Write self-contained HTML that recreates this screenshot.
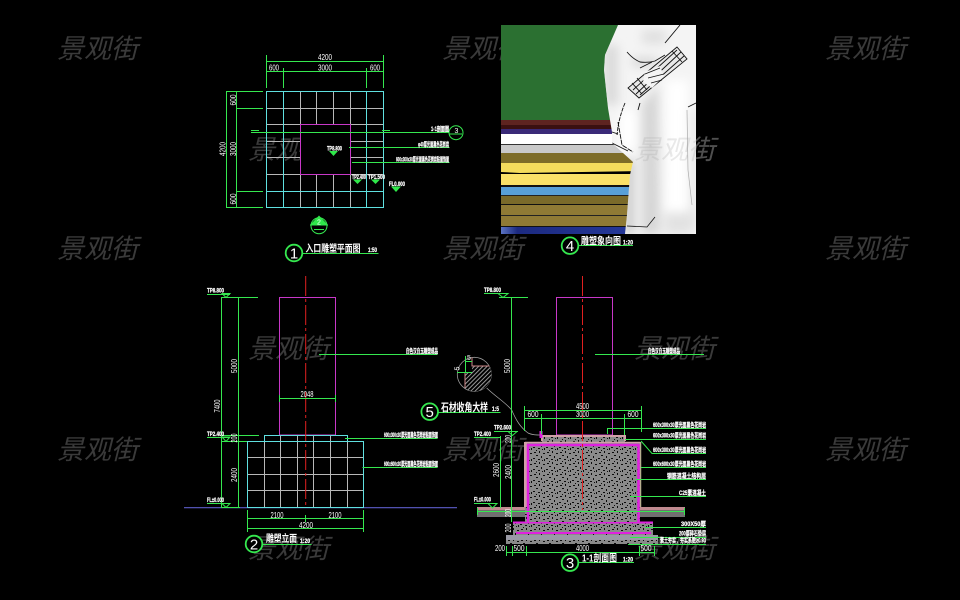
<!DOCTYPE html>
<html><head><meta charset="utf-8"><style>
html,body{margin:0;padding:0;background:#000;width:960px;height:600px;overflow:hidden}
svg{display:block}
text{font-family:"Liberation Sans","Noto Sans CJK SC",sans-serif}
.w{font-size:27px;font-style:italic;font-weight:400;fill:#3a3a3a;font-family:"Liberation Sans","Noto Sans CJK SC",sans-serif}
.t{fill:#fff;font-size:6.5px;font-weight:700;stroke:#fff;stroke-width:.25}
.d{fill:#fff;font-size:8.5px}
.g{stroke:#35e84f;stroke-width:1;fill:none}
.c{stroke:#5fe0e0;stroke-width:1;fill:none}
.l{stroke:#b8b8b8;stroke-width:1;fill:none}
.m{stroke:#c838c8;stroke-width:1;fill:none}
path.g,path.c,path.l,rect.c,rect.m{shape-rendering:crispEdges}
.n{fill:#000;stroke:#35e84f;stroke-width:1.8}
.nt{fill:#fff;font-size:15px;text-anchor:middle}
.ti{fill:#fff;font-size:10px;font-weight:700}
</style></head><body>
<svg width="960" height="600" viewBox="0 0 960 600" xmlns="http://www.w3.org/2000/svg">
<defs>
<pattern id="sp" width="13" height="11" patternUnits="userSpaceOnUse">
<rect width="13" height="11" fill="#8a8a8a"/>
<g fill="#0c0c0c"><rect x="1" y="1" width="2" height="1"/><rect x="6" y="0" width="1" height="2"/><rect x="10" y="2" width="2" height="1"/><rect x="3" y="4" width="2" height="1"/><rect x="8" y="5" width="1" height="2"/><rect x="0" y="7" width="2" height="1"/><rect x="5" y="8" width="2" height="1"/><rect x="11" y="8" width="1" height="2"/><rect x="3" y="10" width="1" height="1"/><rect x="9" y="9" width="1" height="1"/></g>
</pattern>
<pattern id="ha" width="3" height="3" patternUnits="userSpaceOnUse" patternTransform="rotate(-45)">
<rect width="3" height="3" fill="#000"/><rect width="3" height="1" fill="#999"/>
</pattern>
<linearGradient id="nv" x1="0" x2="1" y1="0" y2="0"><stop offset="0" stop-color="#5b74c4"/><stop offset=".12" stop-color="#1c2a80"/><stop offset="1" stop-color="#25389a"/></linearGradient>
<filter id="bl" x="-30%" y="-30%" width="160%" height="160%"><feGaussianBlur stdDeviation="5"/></filter>
<clipPath id="stc"><path d="M618 25 L696 25 L696 234 L625 234 L627 215 L630 175 L633 162 L612 143 L612 132 L608 108 L604 70 L605 55Z"/></clipPath>
</defs>
<rect width="960" height="600" fill="#000"/>

<!-- watermarks (behind) -->
<g class="w">
<text x="57" y="58">景观街</text><text x="442" y="58">景观街</text><text x="825" y="58">景观街</text>
<text x="248" y="159">景观街</text><text x="634" y="159">景观街</text>
<text x="57" y="258">景观街</text><text x="442" y="258">景观街</text><text x="825" y="258">景观街</text>
<text x="248" y="358">景观街</text><text x="634" y="358">景观街</text>
<text x="57" y="459">景观街</text><text x="442" y="459">景观街</text><text x="825" y="459">景观街</text>
<text x="248" y="558">景观街</text><text x="634" y="558">景观街</text>
</g>

<!-- picture 4 -->
<rect x="501" y="25" width="195" height="209" fill="#2b7031"/>
<rect x="501" y="120" width="125" height="6" fill="#5e2420"/>
<rect x="501" y="125" width="125" height="4" fill="#3a1010"/>
<rect x="501" y="129" width="125" height="5" fill="#3a2a78"/>
<rect x="501" y="134" width="125" height="10" fill="#fff"/>
<rect x="501" y="144" width="125" height="1" fill="#333"/>
<rect x="501" y="145" width="125" height="8" fill="#c9c9c9"/>
<rect x="501" y="153" width="135" height="10" fill="#7d6c28"/>
<rect x="501" y="163" width="135" height="10" fill="#f4dc5c"/>
<path d="M501 172 L520 173 L640 171 L640 174 L520 175 L501 175Z" fill="#000"/>
<rect x="501" y="174" width="135" height="11" fill="#fae168"/>
<rect x="501" y="185" width="135" height="2" fill="#111"/>
<rect x="501" y="187" width="135" height="8" fill="#58a0d8"/>
<rect x="501" y="195" width="135" height="1" fill="#222"/>
<rect x="501" y="196" width="135" height="8" fill="#7a6a2a"/>
<rect x="501" y="204" width="135" height="1" fill="#111"/>
<rect x="501" y="205" width="135" height="10" fill="#8f7a35"/>
<rect x="501" y="215" width="135" height="1" fill="#222"/>
<rect x="501" y="216" width="135" height="10" fill="#8f7a35"/>
<rect x="501" y="226" width="135" height="1" fill="#111"/>
<rect x="501" y="227" width="135" height="7" fill="url(#nv)"/>
<!-- statue -->
<g clip-path="url(#stc)">
<rect x="600" y="25" width="96" height="209" fill="#f4f4f4"/>
<g filter="url(#bl)">
<rect x="604" y="45" width="14" height="60" fill="#dadada"/>
<rect x="632" y="58" width="26" height="8" fill="#d4d4d4"/>
<rect x="642" y="30" width="24" height="14" fill="#e0e0e0"/>
<path d="M642 105 L658 85 L660 234 L642 234Z" fill="#d6d6d6"/>
<rect x="626" y="160" width="7" height="74" fill="#bdbdbd"/>
<rect x="666" y="80" width="22" height="150" fill="#fff"/>
<rect x="620" y="110" width="16" height="40" fill="#fff"/>
<rect x="690" y="110" width="6" height="120" fill="#e4e4e4"/>
<rect x="665" y="212" width="25" height="22" fill="#e2e2e2"/>
</g>
<g fill="none" stroke="#111" stroke-width=".9">
<path d="M627 52 Q633 59 640 62 Q648 63 655 61 L665 55"/>
<path d="M665 43 L680 25"/>
<path d="M677 47 L687 59 L639 98 L628 88Z" fill="#e8e8e8"/>
<path d="M672 51 L682 62 M681 52 L636 94 M684 56 L640 95 M677 50 L633 90"/>
<path d="M632 83 L642 94 M637 78 L647 90"/>
<path d="M625 103 Q620 115 618 127 L617 135" stroke-dasharray="4 1"/>
<path d="M618 122 L622 145 L633 152" stroke-dasharray="5 1"/>
<path d="M612 143 L628 151 M612 132 L618 134"/>
<path d="M640 103 L638 110"/>
<path d="M688 107 L696 103"/>
<path d="M627 226 L647 227 L655 217" stroke-width=".8"/>
</g>
<path d="M645 72 L660 66 L664 76 L652 88 L643 82Z" fill="#f4f4f4"/>
<g fill="none" stroke="#111" stroke-width=".9">
<path d="M640 68 L652 62 M645 74 L660 68 M648 78 L664 74 M651 83 L662 80"/>
</g>
<path d="M687 110 L688 170 L692 205" fill="none" stroke="#aaa" stroke-width=".7"/>
</g>
<text x="634" y="159" class="w" style="fill:#999;fill-opacity:.22">景观街</text>

<!-- plan view 1 -->
<g class="l">
<path d="M283.5 91V207 M300.5 91V207 M316.5 91V207 M333.5 91V207 M350.5 91V207 M366.5 91V207"/>
<path d="M266 108.5H384 M266 124.5H384 M266 141.5H384 M266 157.5H384 M266 174.5H384 M266 191.5H384"/>
</g>
<rect x="301" y="125" width="49" height="49" fill="#000"/>
<g class="c">
<rect x="266.500" y="91.500" width="117" height="116"/>
<path d="M283.500 91.500V207 M366.500 91.500V207 M266.500 191.500H384"/>
</g>
<rect x="300.500" y="124.500" width="50" height="50" class="m"/>
<g class="g">
<path d="M266.500 61.500H384 M266.500 71.500H384 M266.500 55V88 M283.500 68V88 M366.500 68V88 M383.500 55V88"/>
<path d="M226 91.500H263 M236 108.500H263 M236 191.500H263 M226 207.500H263 M226.500 91V208 M236.500 91V208"/>
<path d="M251 132.500H449.500 M251 130.500H259 M382 130.500H390"/>
<path d="M349 147.500H449.500 M352 162.500H449.500"/>
<path d="M449 134H462"/>
</g>
<circle cx="456" cy="132.700" r="7" fill="none" stroke="#35e84f"/>
<text x="325" y="60" class="d" text-anchor="middle" textLength="14" lengthAdjust="spacingAndGlyphs">4200</text>
<text x="274" y="70.500" class="d" text-anchor="middle" textLength="10" lengthAdjust="spacingAndGlyphs">600</text>
<text x="325" y="70.500" class="d" text-anchor="middle" textLength="14" lengthAdjust="spacingAndGlyphs">3000</text>
<text x="375" y="70.500" class="d" text-anchor="middle" textLength="10" lengthAdjust="spacingAndGlyphs">600</text>
<g class="d" text-anchor="middle">
<text transform="translate(225.500 149) rotate(-90)" textLength="14" lengthAdjust="spacingAndGlyphs">4200</text>
<text transform="translate(236 100) rotate(-90)" textLength="11" lengthAdjust="spacingAndGlyphs">600</text>
<text transform="translate(236 149) rotate(-90)" textLength="14" lengthAdjust="spacingAndGlyphs">3000</text>
<text transform="translate(236 199) rotate(-90)" textLength="11" lengthAdjust="spacingAndGlyphs">600</text>
</g>
<text x="431" y="131" class="t" textLength="18" lengthAdjust="spacingAndGlyphs">1-1剖面图</text>
<text x="456.500" y="133" class="d" style="font-size:7px" text-anchor="middle">3</text>
<text x="418" y="146.500" class="t" textLength="31" lengthAdjust="spacingAndGlyphs">φ40厚光面黑色花岗岩</text>
<text x="396" y="161.500" class="t" textLength="53" lengthAdjust="spacingAndGlyphs">600x300x30厚光面黑色花岗岩贴面饰面</text>
<text x="327" y="150.500" class="t" textLength="15" lengthAdjust="spacingAndGlyphs">TP8.800</text>
<text x="352" y="179" class="t" textLength="14" lengthAdjust="spacingAndGlyphs">TP2.400</text>
<text x="368" y="179" class="t" textLength="17" lengthAdjust="spacingAndGlyphs">TP1.500</text>
<text x="389" y="186" class="t" textLength="16" lengthAdjust="spacingAndGlyphs">FL0.000</text>
<path d="M329 151H338L333.500 156Z M353 179.500H362L357.500 184Z M371 179.500H380L375.500 184Z M391 186.500H401L396 192Z" fill="#2fe84a"/>
<circle cx="319" cy="225.700" r="8" fill="none" stroke="#35e84f"/>
<path d="M310 225H328 M314 229.500H324" class="g"/>
<path d="M319 215.500L310 225H328Z" fill="#2fe84a"/>
<text x="319" y="224.500" class="d" style="font-size:7px" text-anchor="middle">2</text>
<circle cx="294" cy="253" r="8.300" class="n"/>
<text x="294" y="258.500" class="nt">1</text>
<path d="M302 253.500H378.500" class="g"/>
<text x="305.500" y="252" class="ti" textLength="55" lengthAdjust="spacingAndGlyphs">入口雕塑平面图</text>
<text x="368" y="252" class="t" textLength="9" lengthAdjust="spacingAndGlyphs">1:50</text>

<circle cx="570" cy="245.700" r="8.300" class="n"/>
<text x="570" y="251" class="nt">4</text>
<path d="M578 245.500H633" class="g"/>
<text x="581" y="244.500" class="ti" textLength="40" lengthAdjust="spacingAndGlyphs">雕塑象向图</text>
<text x="623" y="244.500" class="t" textLength="10" lengthAdjust="spacingAndGlyphs">1:20</text>

<!-- elevation 2 -->
<path d="M184 507.700H457" stroke="#5d5dc8" stroke-width="1.100"/>
<rect x="279.500" y="297.500" width="56" height="137.500" class="m"/>
<g class="l">
<path d="M264.500 441V507.500 M280.500 435V507.500 M297.500 435V507.500 M313.500 435V507.500 M330.500 435V507.500 M347.500 441V507.500"/>
<path d="M247.500 457.500H363.500 M247.500 474.500H363.500 M247.500 490.500H363.500"/>
</g>
<g class="c">
<path d="M264.500 441V435.500H347.500V441"/>
<rect x="247.500" y="441.500" width="116" height="66"/>
</g>
<path d="M305.700 276V508" stroke="#e02020" stroke-width="1" stroke-dasharray="20 3 3 3"/>
<g class="g">
<path d="M222 297.500H258 M222 435.500H259 M222 441.500H247 M222 507.500H240 M221.500 297V508 M238.500 297V508"/>
<path d="M279 398.500H336 M279.500 395V402 M335.500 395V402"/>
<path d="M319 354.500H437.500"/>
<path d="M345 438.500H437.500 M362.500 467.500H437.500"/>
<path d="M247 518.500H364 M247 528.500H364 M247.500 510V532 M305.500 515V522 M363.500 510V532"/>
<path d="M207 294.500H230 M207 437.500H230 M207 503.500H230"/>
</g>
<path d="M222 293.500H230L226 297.500Z M222 437H230L226 441.500Z M222 503.500H230L226 507.500Z" fill="none" stroke="#35e84f"/>
<text x="207" y="292.500" class="t" textLength="17" lengthAdjust="spacingAndGlyphs">TP8.800</text>
<text x="207" y="436" class="t" textLength="17" lengthAdjust="spacingAndGlyphs">TP2.400</text>
<text x="207" y="502" class="t" textLength="17" lengthAdjust="spacingAndGlyphs">FL±0.000</text>
<g class="d" text-anchor="middle">
<text transform="translate(220 406) rotate(-90)" textLength="13" lengthAdjust="spacingAndGlyphs">7400</text>
<text transform="translate(237 366) rotate(-90)" textLength="14" lengthAdjust="spacingAndGlyphs">5000</text>
<text transform="translate(237 438) rotate(-90)" textLength="9" lengthAdjust="spacingAndGlyphs">200</text>
<text transform="translate(237 475) rotate(-90)" textLength="14" lengthAdjust="spacingAndGlyphs">2400</text>
</g>
<text x="307" y="397" class="d" text-anchor="middle" textLength="13" lengthAdjust="spacingAndGlyphs">2048</text>
<text x="277" y="518" class="d" text-anchor="middle" textLength="13" lengthAdjust="spacingAndGlyphs">2100</text>
<text x="335" y="518" class="d" text-anchor="middle" textLength="13" lengthAdjust="spacingAndGlyphs">2100</text>
<text x="306" y="528" class="d" text-anchor="middle" textLength="14" lengthAdjust="spacingAndGlyphs">4200</text>
<text x="406" y="353" class="t" textLength="32" lengthAdjust="spacingAndGlyphs">白色汉白玉雕塑成品</text>
<text x="384" y="437" class="t" textLength="54" lengthAdjust="spacingAndGlyphs">600x300x30厚光面黑色花岗岩贴面饰面</text>
<text x="384" y="466" class="t" textLength="54" lengthAdjust="spacingAndGlyphs">600x600x30厚光面黑色花岗岩贴面饰面</text>
<circle cx="254" cy="544" r="8.300" class="n"/>
<text x="254" y="549.500" class="nt">2</text>
<path d="M262 544.500H311.500" class="g"/>
<text x="266" y="542" class="ti" textLength="31" lengthAdjust="spacingAndGlyphs">雕塑立面</text>
<text x="300" y="543" class="t" textLength="10" lengthAdjust="spacingAndGlyphs">1:20</text>

<!-- detail 5 -->
<circle cx="474.300" cy="374.300" r="17" fill="none" stroke="#999" stroke-width=".8"/>
<path d="M465 373H472V366H489.300A17 17 0 0 1 468 390L465 388Z" fill="url(#ha)"/>
<path d="M472 357.500V366H489.500 M465 373V388" fill="none" stroke="#d08a8a"/>
<g class="g"><path d="M457 372.500H472 M465.500 356V373 M465 361.500H472"/></g>
<text x="467" y="360" class="d" style="font-size:7px">5</text>
<text transform="translate(459.500 370.500) rotate(-90)" class="d" style="font-size:7px">5</text>
<path d="M486.700 388C496 397 505 402 511.700 410C516 420 520 427 528 433C532 435 536 435 541.700 435" fill="none" stroke="#aaa" stroke-width=".7"/>
<circle cx="429.700" cy="411.700" r="8.300" class="n"/>
<text x="429.700" y="417" class="nt">5</text>
<path d="M438 412.500H500.500" class="g"/>
<text x="441" y="411" class="ti" style="font-size:11px" textLength="47" lengthAdjust="spacingAndGlyphs">石材收角大样</text>
<text x="492" y="411" class="t" textLength="7" lengthAdjust="spacingAndGlyphs">1:5</text>

<!-- section 3 -->
<rect x="556.500" y="297.500" width="56" height="137.500" class="m"/>
<rect x="477" y="507" width="49" height="10" fill="#707070"/>
<rect x="640" y="507" width="45" height="10" fill="#707070"/>
<path d="M477 508.500H526 M640 508.500H685" stroke="#c08a90" stroke-width="3"/>
<rect x="506" y="535" width="152" height="9" fill="#9a9aa6"/>
<rect x="506" y="540" width="152" height="4" fill="url(#sp)"/>
<rect x="513" y="522" width="140" height="13" fill="url(#sp)"/>
<path d="M513 522.500H653 M516 533H651" fill="none" stroke="#e020e0" stroke-width="2"/>
<rect x="525" y="442" width="115" height="80" fill="url(#sp)"/>
<rect x="542" y="435" width="83" height="7" fill="url(#sp)"/>
<path d="M542 441V436H625V441" fill="none" stroke="#d0a0a8" stroke-width="2"/>
<path d="M525 442.500H640" stroke="#d0a0a8" stroke-width="1.500"/>
<path d="M525.500 442V507" stroke="#d0a0a8" stroke-width="3"/>
<path d="M640.500 442V507" stroke="#b8b090" stroke-width="1.500"/>
<path d="M528 522V445H638.500V522" fill="none" stroke="#e020e0" stroke-width="2.500"/>
<path d="M541 431V438" stroke="#e020e0" stroke-width="3"/>
<path d="M582.500 276V510" stroke="#e02020" stroke-width="1" stroke-dasharray="20 3 3 3"/>
<g class="g">
<path d="M499 297.500H528 M511.500 297V522 M500.500 436V508"/>
<path d="M524 410.500H641 M524 418.500H641 M524.500 406V431 M541.500 414V434 M624.500 414V435 M641.500 406V432"/>
<path d="M595 354.500H704"/>
<path d="M607 428.500H706 M607.500 428V434 M625 439.500H706 M641 441L652 453.500H706 M641 467.500H706 M636 479.500H706 M630 496.500H706"/>
<path d="M645 527.500H706 M630 537.500H706 M628 544.500H706"/>
<path d="M506 552.500H655 M506.500 546V556 M512.500 546V556 M526.500 546V556 M639.500 546V556 M654.500 546V556"/>
<path d="M474 437.500H500 M494 431.500H518 M474 503.500H497"/>
<path d="M477 511.500H685 M477.500 508V515 M684.500 508V515"/>
<path d="M484 293.500H508"/>
</g>
<path d="M498 293.500H508L503 297.500Z M508 431.500H517L512.500 435.500Z M488 503.500H497L492.500 508Z" fill="none" stroke="#35e84f"/>
<text x="484" y="292" class="t" textLength="17" lengthAdjust="spacingAndGlyphs">TP8.800</text>
<text x="474" y="436" class="t" textLength="17" lengthAdjust="spacingAndGlyphs">TP2.400</text>
<text x="494" y="429.500" class="t" textLength="17" lengthAdjust="spacingAndGlyphs">TP2.600</text>
<text x="474" y="501.500" class="t" textLength="17" lengthAdjust="spacingAndGlyphs">FL±0.000</text>
<g class="d" text-anchor="middle">
<text transform="translate(510 366) rotate(-90)" textLength="14" lengthAdjust="spacingAndGlyphs">5000</text>
<text transform="translate(499 470) rotate(-90)" textLength="14" lengthAdjust="spacingAndGlyphs">2600</text>
<text transform="translate(511 472) rotate(-90)" textLength="14" lengthAdjust="spacingAndGlyphs">2400</text>
<text transform="translate(511 439) rotate(-90)" textLength="8" lengthAdjust="spacingAndGlyphs">200</text>
<text transform="translate(511 513) rotate(-90)" textLength="8" lengthAdjust="spacingAndGlyphs">200</text>
<text transform="translate(511 528) rotate(-90)" textLength="9" lengthAdjust="spacingAndGlyphs">200</text>
</g>
<text x="582.500" y="409" class="d" text-anchor="middle" textLength="13" lengthAdjust="spacingAndGlyphs">4500</text>
<text x="533" y="417" class="d" text-anchor="middle" textLength="11" lengthAdjust="spacingAndGlyphs">600</text>
<text x="582.500" y="417" class="d" text-anchor="middle" textLength="13" lengthAdjust="spacingAndGlyphs">3000</text>
<text x="633" y="417" class="d" text-anchor="middle" textLength="11" lengthAdjust="spacingAndGlyphs">600</text>
<text x="500" y="551" class="d" text-anchor="middle" textLength="10" lengthAdjust="spacingAndGlyphs">200</text>
<text x="519" y="551" class="d" text-anchor="middle" textLength="11" lengthAdjust="spacingAndGlyphs">500</text>
<text x="582.500" y="551" class="d" text-anchor="middle" textLength="13" lengthAdjust="spacingAndGlyphs">4000</text>
<text x="646" y="551" class="d" text-anchor="middle" textLength="11" lengthAdjust="spacingAndGlyphs">500</text>
<g class="t">
<text x="648" y="353" textLength="32" lengthAdjust="spacingAndGlyphs">白色汉白玉雕塑成品</text>
<text x="653" y="427" textLength="53" lengthAdjust="spacingAndGlyphs">600x300x30厚光面黑色花岗岩</text>
<text x="653" y="437.500" textLength="53" lengthAdjust="spacingAndGlyphs">600x300x30厚光面黑色花岗岩</text>
<text x="653" y="452" textLength="53" lengthAdjust="spacingAndGlyphs">600x300x30厚光面黑色花岗岩</text>
<text x="653" y="466" textLength="53" lengthAdjust="spacingAndGlyphs">600x600x30厚光面黑色花岗岩</text>
<text x="667" y="478" textLength="39" lengthAdjust="spacingAndGlyphs">钢筋混凝土结构层</text>
<text x="679" y="495" textLength="27" lengthAdjust="spacingAndGlyphs">C25素混凝土</text>
<text x="681" y="526" textLength="25" lengthAdjust="spacingAndGlyphs">300X50厚</text>
<text x="679" y="535.500" textLength="27" lengthAdjust="spacingAndGlyphs">200厚碎石垫层</text>
<text x="660" y="542.500" textLength="46" lengthAdjust="spacingAndGlyphs">素土夯实，夯实系数≥0.93</text>
</g>
<circle cx="570" cy="562.700" r="8.300" class="n"/>
<text x="570" y="568" class="nt">3</text>
<path d="M578 562.500H634" class="g"/>
<text x="582" y="561.500" class="ti" textLength="35" lengthAdjust="spacingAndGlyphs">1-1剖面图</text>
<text x="623" y="561.500" class="t" textLength="10" lengthAdjust="spacingAndGlyphs">1:20</text>
</svg>
</body></html>
